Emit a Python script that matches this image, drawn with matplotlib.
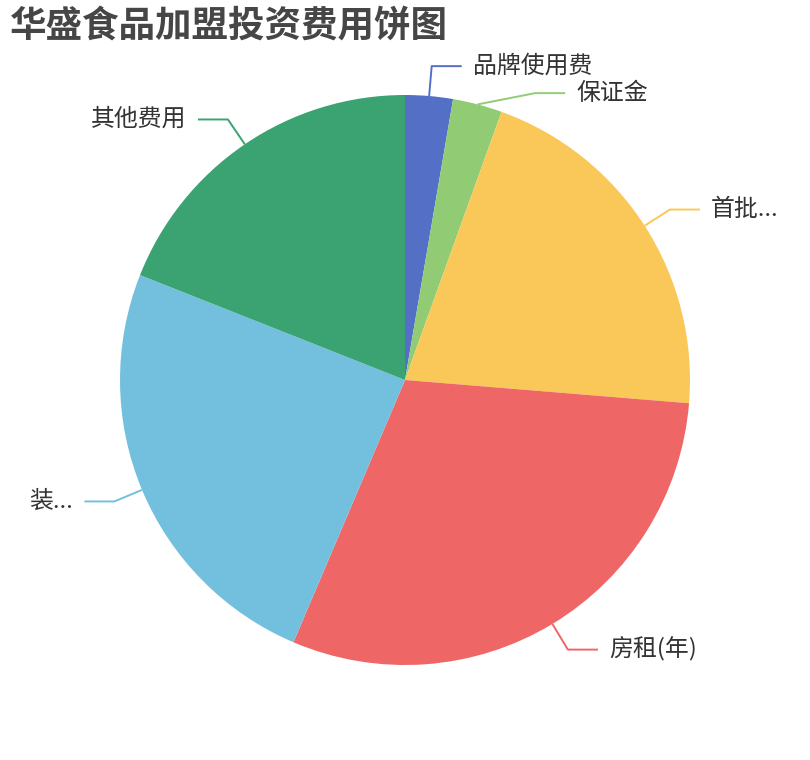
import numpy as np
import matplotlib
matplotlib.use("Agg")
import matplotlib.pyplot as plt

plt.rcParams['font.family'] = ['Noto Sans CJK SC', 'DejaVu Sans']

# data (shares)
labels = ['品牌使用费', '保证金', '首批...', '房租(年)', '装...', '其他费用']
values = [2.7, 2.8, 20.8, 30.1, 24.6, 19.0]
colors = ['#5470c6', '#91cc75', '#fac858', '#ee6666', '#73c0de', '#3ba272']
title = '华盛食品加盟投资费用饼图'

W, H = 810, 760
cx, cy, r = 405, 380, 285
len1, len2, gap = 30, 30, 11
line_h = 27

fig = plt.figure(figsize=(W / 100, H / 100), dpi=100)
ax = fig.add_axes([0, 0, 1, 1])
wedges, _ = ax.pie(values, colors=colors, startangle=90, counterclock=False,
                   center=(cx, cy), radius=r, wedgeprops=dict(linewidth=0))
ax.set_xlim(0, W)
ax.set_ylim(0, H)
ax.axis('off')

# label positions: radial elbow, then a horizontal leg
items = []
for w, lab, col in zip(wedges, labels, colors):
    ang = np.deg2rad((w.theta1 + w.theta2) / 2)
    dx, dy = np.cos(ang), np.sin(ang)
    p0 = (cx + r * dx, cy + r * dy)
    p1 = [cx + (r + len1) * dx, cy + (r + len1) * dy]
    items.append(dict(label=lab, color=col, p0=p0, p1=p1, right=dx >= 0))

# push overlapping labels apart (per side), like echarts does
for side in (True, False):
    group = sorted([it for it in items if it['right'] == side],
                   key=lambda it: -it['p1'][1])
    for prev, cur in zip(group, group[1:]):
        if prev['p1'][1] - cur['p1'][1] < line_h:
            cur['p1'][1] = prev['p1'][1] - line_h
            R = r + len1
            off = np.sqrt(max(R ** 2 - (cur['p1'][1] - cy) ** 2, 0))
            cur['p1'][0] = cx + off if side else cx - off

for it in items:
    sgn = 1 if it['right'] else -1
    p0, p1 = it['p0'], it['p1']
    p2 = (p1[0] + sgn * len2, p1[1])
    ax.plot([p0[0], p1[0], p2[0]], [p0[1], p1[1], p2[1]],
            color=it['color'], lw=1.4, solid_capstyle='butt')
    ax.text(p2[0] + sgn * gap, p2[1], it['label'], fontsize=17.2,
            color='#333333', ha='left' if it['right'] else 'right',
            va='center')

fig.text(10 / W, 1 - 26 / H, title, fontsize=26.3, fontweight='bold',
         color='#464646', ha='left', va='center')

fig.savefig('out.png', dpi=100)
